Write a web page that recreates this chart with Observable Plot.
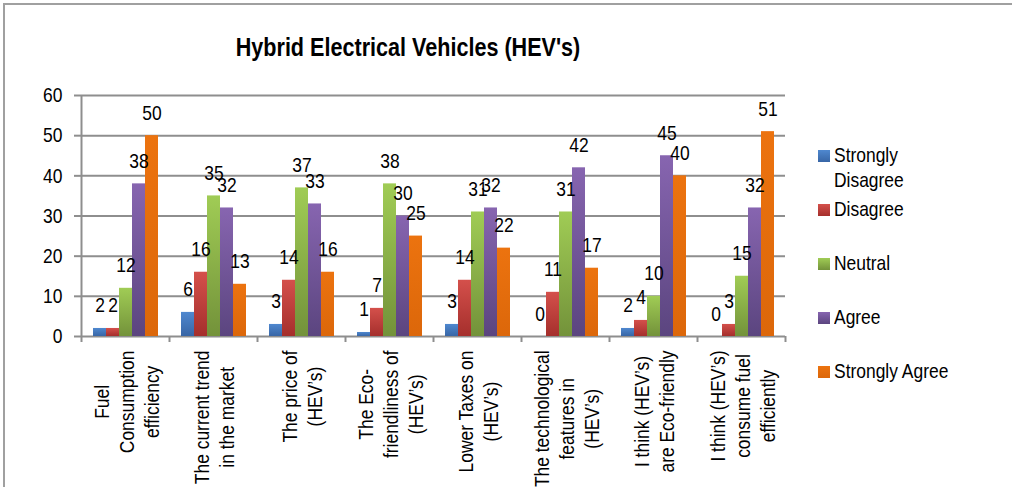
<!DOCTYPE html>
<html>
<head>
<meta charset="utf-8">
<script src="https://cdn.jsdelivr.net/npm/d3@7"></script>
<script src="https://cdn.jsdelivr.net/npm/@observablehq/plot@0.6"></script>
<style>
html, body { margin: 0; padding: 0; background: #fff; width: 1012px; height: 487px; overflow: hidden; }
body { position: relative; font-family: 'Liberation Sans', Arial, sans-serif; color: #000; }
#frame { position: absolute; left: 3px; top: 3px; width: 1100px; height: 700px; border: 2px solid #a0a0a0; box-sizing: border-box; }
#title { position: absolute; left: 0; width: 816px; top: 34px; text-align: center; font-weight: bold; font-size: 26px; line-height: 26px; white-space: nowrap; transform: scaleX(0.83); transform-origin: 408px 0; }
#chart { position: absolute; left: 0; top: 75px; }
#legend { position: absolute; left: 0; top: 0; width: 1012px; height: 487px; pointer-events: none; }
.sw { position: absolute; left: 818px; width: 12px; height: 12px; }
.lt { position: absolute; left: 834px; font-size: 21px; line-height: 25px; white-space: pre; transform: scaleX(0.83); transform-origin: 0 0; }
#defs { position: absolute; width: 0; height: 0; }
</style>
</head>
<body>
<div id="frame"></div>
<div id="title">Hybrid Electrical Vehicles (HEV's)</div>
<div id="chart"></div>
<div id="legend"></div>
<script>
// ---- data ----
const categories = [
  "Fuel\nConsumption\nefficiency",
  "The current trend\nin the market",
  "The price of\n(HEV’s)",
  "The Eco-\nfriendliness of\n(HEV’s)",
  "Lower Taxes on\n(HEV’s)",
  "The technological\nfeatures in\n(HEV’s)",
  "I think (HEV’s)\nare Eco-friendly",
  "I think (HEV’s)\nconsume fuel\nefficiently"
];
const seriesNames = ["Strongly Disagree", "Disagree", "Neutral", "Agree", "Strongly Agree"];
const stronglyDisagree = [2, 6, 3, 1, 3, 0, 2, 0];
const disagree = [2, 16, 14, 7, 14, 11, 4, 3];
const neutral = [12, 35, 37, 38, 31, 31, 10, 15];
const agree = [38, 32, 33, 30, 32, 42, 45, 32];
const stronglyAgree = [50, 13, 16, 25, 22, 17, 40, 51];
const yTicks = [0, 10, 20, 30, 40, 50, 60];
const legendLabels = ["Strongly\nDisagree", "Disagree", "Neutral", "Agree", "Strongly Agree"];
// top / bottom gradient colours per series
const seriesColors = [
  ["#4f88cf", "#3866a6"],
  ["#d4504b", "#a52f2c"],
  ["#a0cc55", "#73923a"],
  ["#8765b0", "#5b457f"],
  ["#ec730f", "#dc670a"]
];

const seriesValues = [stronglyDisagree, disagree, neutral, agree, stronglyAgree];
const rows = [];
categories.forEach((c, i) => seriesNames.forEach((s, j) => rows.push({cat: c, series: s, value: seriesValues[j][i]})));

// ---- gradients ----
const defsSvg = d3.select("body").append("svg").attr("id", "defs");
const defs = defsSvg.append("defs");
seriesColors.forEach((cs, i) => {
  const g = defs.append("linearGradient").attr("id", "grad" + i).attr("x1", 0).attr("y1", 0).attr("x2", 0).attr("y2", 1);
  g.append("stop").attr("offset", "0%").attr("stop-color", cs[0]);
  g.append("stop").attr("offset", "100%").attr("stop-color", cs[1]);
});

// ---- layout ----
const FONT = "'Liberation Sans', Arial, sans-serif";
const NARROW = 0.83; // condensed look of the original typeface
const LABEL_SIZE = 21;
const W = 1012, H = 412, mL = 81, mR = 227, mT = 20, mB = 151;
const k = (H - mT - mB) / (yTicks[yTicks.length - 1] - yTicks[0]);
const facetHalf = (W - mL - mR) / categories.length / 2;
const ctx = document.createElement("canvas").getContext("2d");
ctx.font = LABEL_SIZE + "px " + FONT;
const labelRows = categories.map(c => {
  const w = NARROW * d3.max(c.split("\n"), l => ctx.measureText(l).width);
  return {cat: c, label: c, yv: -(14 + w / 2) / k};
});
const gray = "#8e8e8e";

const chart = Plot.plot({
  width: W, height: H,
  marginLeft: mL, marginRight: mR, marginTop: mT, marginBottom: mB,
  style: {fontFamily: FONT, fontSize: "21px", color: "#000", background: "transparent", overflow: "visible"},
  fx: {domain: categories, padding: 0, axis: null, label: null},
  x: {domain: seriesNames, paddingInner: 0, paddingOuter: 0.73, axis: null},
  y: {domain: [0, 60], axis: null},
  color: {domain: seriesNames, range: seriesNames.map((s, i) => `url(#grad${i})`)},
  marks: [
    Plot.gridY(yTicks, {stroke: gray, strokeOpacity: 1, strokeWidth: 2}),
    Plot.barY(rows, {fx: "cat", x: "series", y: "value", fill: "series"}),
    Plot.ruleX([{cat: categories[0]}], {fx: "cat", x: null, y1: 0, y2: 60, dx: -facetHalf, stroke: gray, strokeWidth: 2}),
    Plot.ruleX(categories.map(c => ({cat: c})), {fx: "cat", x: null, y1: 0, y2: -1.5, dx: -facetHalf, stroke: gray, strokeWidth: 2}),
    Plot.ruleX([{cat: categories[categories.length - 1]}], {fx: "cat", x: null, y1: 0, y2: -1.5, dx: facetHalf, stroke: gray, strokeWidth: 2}),
    Plot.axisY(yTicks, {tickSize: 7, tickPadding: 12, stroke: gray, strokeWidth: 2, fill: "#000", fontSize: 21, label: null, tickFormat: d => String(d)}),
    Plot.text(rows, {fx: "cat", x: "series", y: "value", text: d => String(d.value), lineAnchor: "bottom", dy: -16, fontSize: 21, fill: "#000"}),
    Plot.text(labelRows, {fx: "cat", y: "yv", text: "label", rotate: -90, textAnchor: "middle", lineAnchor: "middle", lineHeight: 25 / LABEL_SIZE, fontSize: LABEL_SIZE, fill: "#000"})
  ]
});
document.getElementById("chart").appendChild(chart);

// condense glyphs along the baseline to mimic the narrow typeface
chart.querySelectorAll("text").forEach(t => {
  const spans = t.querySelectorAll("tspan");
  const items = spans.length ? Array.from(spans) : [t];
  items.forEach(el => {
    const len = el.getComputedTextLength();
    if (len > 0) {
      el.setAttribute("textLength", (len * NARROW).toFixed(2));
      el.setAttribute("lengthAdjust", "spacingAndGlyphs");
    }
  });
});

// ---- legend ----
const legendTops = [150, 204, 258, 312, 366];
const legend = d3.select("#legend");
legendLabels.forEach((l, i) => {
  legend.append("div").attr("class", "sw")
    .style("top", legendTops[i] + "px")
    .style("background", `linear-gradient(${seriesColors[i][0]}, ${seriesColors[i][1]})`);
  legend.append("div").attr("class", "lt")
    .style("top", (legendTops[i] + 12 - 20) + "px")
    .text(l);
});
</script>
</body>
</html>
